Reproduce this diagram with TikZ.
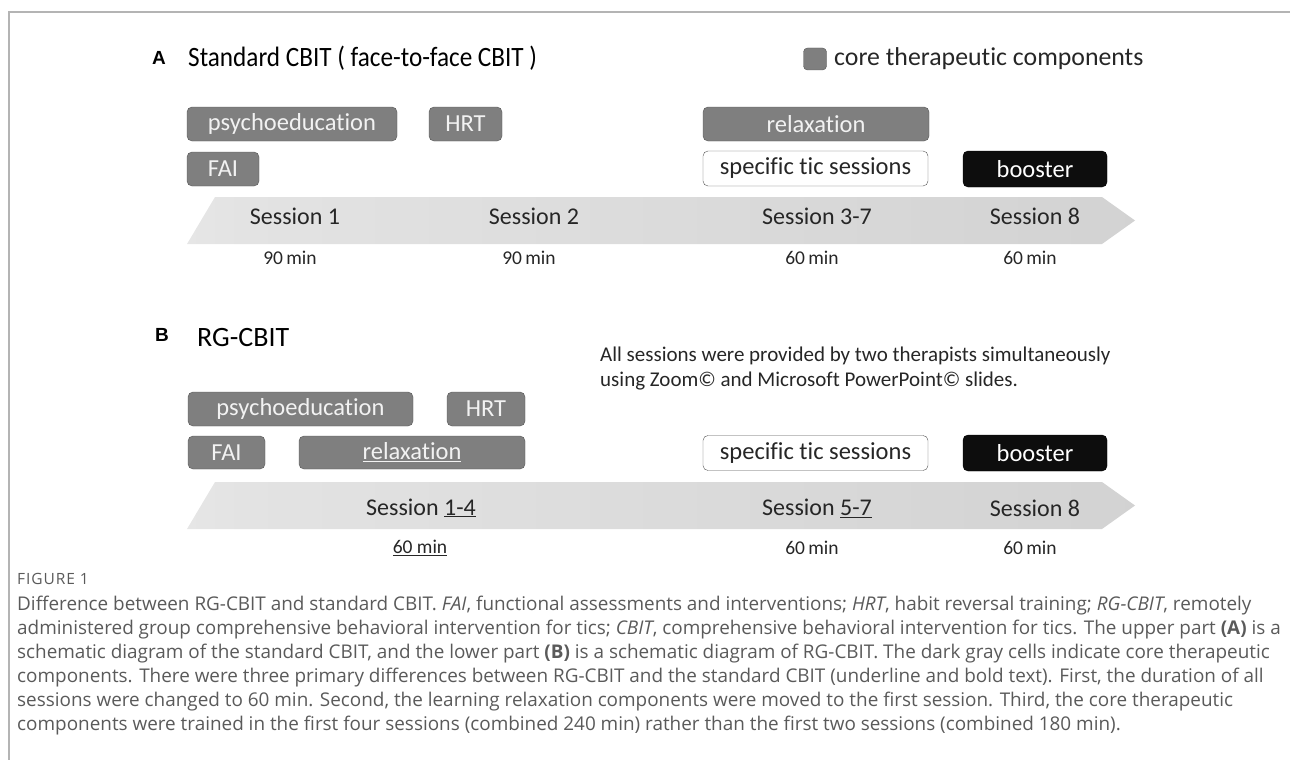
\documentclass[tikz,border=0pt]{standalone}
\usepackage{fontspec}
\setmainfont{Carlito}[Ligatures=NoCommon]
\newfontfamily\titlefont{Carlito}[FakeStretch=0.9, Ligatures=NoCommon]
\newfontfamily\tagfont{Liberation Sans}
\newfontfamily\capfont{Open Sans}[Ligatures=NoCommon]
\newfontfamily\figfont{Open Sans}[LetterSpace=6]
\usetikzlibrary{positioning}
\definecolor{coregray}{HTML}{7F7F7F}
\definecolor{coreedge}{HTML}{555555}
\definecolor{boxtext}{HTML}{F2F2F2}
\definecolor{capgray}{HTML}{5A5A5A}
\definecolor{framegray}{HTML}{B4B4B4}
\pgfdeclarehorizontalshading{sessfade}{100bp}{color(0bp)=(white); color(28bp)=(gray!22); color(100bp)=(gray!42)}
\newcommand\sessionarrow[1]{%
  \shade[shading=sessfade] (187, #1+47) -- (215, #1) -- (1102, #1) -- (1135, #1+23.5) -- (1102, #1+47) -- cycle;
}
\tikzset{
  compbox/.style={rounded corners=5pt, minimum height=34pt, inner sep=0pt, font=\fontsize{24.5}{28}\selectfont},
  corebox/.style={compbox, draw=coreedge, fill=coregray, text=boxtext},
  ticbox/.style={compbox, draw=coreedge, fill=white, text=black!85},
  boostbox/.style={compbox, draw=black, fill=black!95, text=white},
  sesslabel/.style={font=\fontsize{24}{28}\selectfont, text=black!85},
  minlabel/.style={font=\fontsize{19.5}{22}\selectfont, text=black!85},
  paneltag/.style={font=\tagfont\fontsize{19}{22}\selectfont\bfseries},
  paneltitle/.style={anchor=west, inner sep=0pt, font=\fontsize{28}{32}\selectfont},
  captext/.style={anchor=base west, inner sep=0pt, align=left, text=capgray, font=\capfont\fontsize{18.9}{24}\selectfont},
}
\begin{document}
\begin{tikzpicture}[x=1pt, y=-1pt]
  \useasboundingbox (0,0) rectangle (1290,760);
  % Frame
  \draw[framegray, line width=2pt] (9,760) -- (9,12) -- (1290,12);

  % Panel A: standard CBIT
  \node[paneltag] (tagA) at (159,58) {A};
  \node[paneltitle, font=\titlefont\fontsize{28}{32}\selectfont] (titleA) at (188,58) {Standard CBIT ( face-to-face CBIT )};
  \node[corebox, minimum width=23pt, minimum height=22pt, rounded corners=4pt] (legbox) at (815,59) {};
  \node[anchor=west, inner sep=0pt, font=\fontsize{25.8}{30}\selectfont, text=black!85] (legtext) at (834,59) {core therapeutic components};

  \node[corebox, minimum width=210pt] (psyA) at (292,124) {psychoeducation};
  \node[corebox, minimum width=73pt] (hrtA) at (465.5,124) {HRT};
  \node[corebox, minimum width=226pt] (relaxA) at (816,124) {relaxation};
  \node[corebox, minimum width=72pt] (faiA) at (223,169) {FAI};
  \node[ticbox, minimum width=225pt, minimum height=35pt] (ticA) at (815.5,168.5) {specific tic sessions};
  \node[boostbox, minimum width=144pt, minimum height=36pt] (boostA) at (1035,169) {booster};

  \sessionarrow{197}
  \node[sesslabel] (sA1) at (295,216) {Session 1};
  \node[sesslabel] (sA2) at (534,216) {Session 2};
  \node[sesslabel] (sA3) at (817,216) {Session 3-7};
  \node[sesslabel] (sA8) at (1035,216) {Session 8};
  \node[minlabel] (mA1) at (290,258) {90\,min};
  \node[minlabel] (mA2) at (529,258) {90\,min};
  \node[minlabel] (mA3) at (812,258) {60\,min};
  \node[minlabel] (mA8) at (1030,258) {60\,min};

  % Panel B: RG-CBIT
  \node[paneltag] (tagB) at (162,335) {B};
  \node[paneltitle] (titleB) at (197,338) {RG-CBIT};
  \node[anchor=west, inner sep=0pt, align=left, font=\fontsize{21}{25}\selectfont, text=black!85] (note) at (600,369)
    {All sessions were provided by two therapists simultaneously\\using Zoom© and Microsoft PowerPoint© slides.};

  \node[corebox, minimum width=225pt] (psyB) at (300.5,409) {psychoeducation};
  \node[corebox, minimum width=78pt] (hrtB) at (486,409) {HRT};
  \node[corebox, minimum width=77pt, minimum height=33pt] (faiB) at (226.5,452.5) {FAI};
  \node[corebox, minimum width=226pt, minimum height=33pt] (relaxB) at (412,452.5) {\underline{relaxation}};
  \node[ticbox, minimum width=225pt, minimum height=35pt] (ticB) at (815.5,453) {specific tic sessions};
  \node[boostbox, minimum width=144pt, minimum height=36pt] (boostB) at (1035,453) {booster};

  \sessionarrow{482}
  \node[sesslabel] (sB1) at (421,508) {Session \underline{1-4}};
  \node[sesslabel] (sB5) at (817,508) {Session \underline{5-7}};
  \node[sesslabel] (sB8) at (1035,508) {Session 8};
  \node[minlabel] (mB1) at (420,548) {\underline{60 min}};
  \node[minlabel] (mB5) at (812,548) {60\,min};
  \node[minlabel] (mB8) at (1030,548) {60\,min};

  % Caption
  \node[anchor=base west, inner sep=0pt, text=capgray, font=\figfont\fontsize{15.5}{18}\selectfont] (figno) at (17,584) {FIGURE 1};
  \node[captext] (caption) at (17,730) {%
    Difference between RG-CBIT and standard CBIT. \textit{FAI}, functional assessments and interventions; \textit{HRT}, habit reversal training; \textit{RG-CBIT}, remotely\\
    administered group comprehensive behavioral intervention for tics; \textit{CBIT}, comprehensive behavioral intervention for tics. The upper part \textbf{(A)} is a\\
    schematic diagram of the standard CBIT, and the lower part \textbf{(B)} is a schematic diagram of RG-CBIT. The dark gray cells indicate core therapeutic\\
    components. There were three primary differences between RG-CBIT and the standard CBIT (underline and bold text). First, the duration of all\\
    sessions were changed to 60 min. Second, the learning relaxation components were moved to the first session. Third, the core therapeutic\\
    components were trained in the first four sessions (combined 240 min) rather than the first two sessions (combined 180 min).};
\end{tikzpicture}
\end{document}
